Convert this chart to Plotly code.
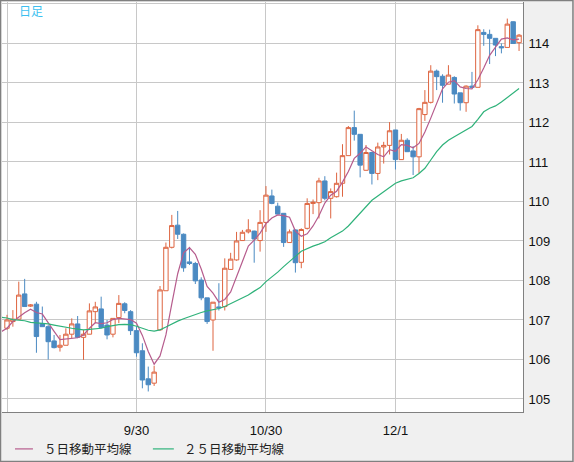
import plotly.graph_objects as go

# ---- data ----
days = list(range(88))
opens = [106.79, 106.96, 107.02, 107.66, 107.35, 107.40, 106.91, 106.83, 106.47, 106.31,
         106.36, 106.64, 106.90, 106.56, 106.64, 107.21, 107.28, 106.87, 106.64, 107.06,
         107.41, 107.21, 106.73, 106.22, 105.51, 105.40, 106.75, 107.74, 108.84, 109.40,
         109.17, 108.47, 108.43, 108.01, 107.56, 107.00, 107.33, 107.34, 108.28, 108.52,
         109.01, 109.23, 109.25, 109.01, 109.47, 110.14, 109.88, 109.70, 108.96, 109.28,
         108.46, 109.32, 109.95, 109.97, 110.52, 110.08, 110.12, 110.46, 111.16, 111.87,
         111.70, 110.79, 111.24, 110.71, 111.38, 111.42, 111.81, 111.06, 111.55, 111.28,
         111.13, 112.20, 112.51, 113.30, 113.17, 112.97, 113.14, 112.75, 112.50, 112.92,
         112.89, 114.28, 114.23, 114.13, 113.92, 113.90, 114.55, 114.02]
highs = [107.13, 107.25, 107.97, 108.04, 107.40, 107.46, 107.34, 106.87, 106.62, 106.62,
         106.79, 107.04, 107.10, 106.75, 107.42, 107.46, 107.59, 107.00, 107.04, 107.63,
         107.45, 107.25, 106.83, 106.41, 105.82, 105.84, 107.86, 108.96, 109.66, 109.76,
         109.19, 108.85, 108.47, 108.08, 107.56, 107.45, 107.93, 108.56, 108.70, 109.23,
         109.28, 109.55, 109.26, 109.78, 110.39, 110.30, 109.97, 109.70, 109.29, 109.29,
         109.32, 110.08, 110.05, 110.60, 110.64, 110.33, 110.73, 111.45, 111.91, 112.30,
         111.70, 111.43, 111.26, 111.49, 111.51, 112.01, 111.81, 111.71, 111.60, 111.40,
         112.37, 112.82, 113.45, 113.34, 113.22, 113.45, 113.17, 112.75, 112.94, 113.28,
         114.46, 114.36, 114.35, 114.13, 114.00, 114.63, 114.56, 114.24]
lows = [106.75, 106.83, 107.00, 107.34, 107.33, 106.17, 106.83, 106.00, 106.28, 106.20,
        106.36, 106.54, 106.54, 105.99, 106.64, 106.92, 106.79, 106.51, 106.56, 106.92,
        107.17, 106.62, 106.07, 105.27, 105.19, 105.33, 106.73, 107.74, 108.81, 109.05,
        108.22, 108.39, 107.91, 107.50, 106.90, 106.22, 107.24, 107.24, 108.28, 108.50,
        109.01, 109.19, 108.45, 108.73, 109.23, 109.93, 109.68, 108.85, 108.96, 108.20,
        108.31, 109.29, 109.68, 109.57, 110.03, 109.57, 110.10, 110.12, 111.16, 111.54,
        110.61, 110.78, 110.43, 110.54, 110.96, 111.19, 110.81, 111.06, 111.26, 110.67,
        110.71, 112.04, 112.48, 112.82, 112.50, 112.97, 112.48, 112.30, 112.27, 112.89,
        112.89, 113.94, 113.48, 113.68, 113.75, 113.90, 114.00, 113.81]
closes = [107.00, 107.02, 107.63, 107.34, 107.38, 106.58, 106.83, 106.45, 106.30, 106.36,
          106.64, 106.90, 106.56, 106.64, 107.23, 107.33, 106.81, 106.62, 107.04, 107.42,
          107.24, 106.73, 106.17, 105.48, 105.36, 105.68, 107.76, 108.84, 109.39, 109.17,
          108.32, 108.43, 107.99, 107.56, 106.96, 107.45, 107.31, 108.31, 108.54, 109.00,
          109.22, 109.28, 109.05, 109.47, 110.16, 109.95, 109.68, 108.96, 109.23, 108.45,
          109.29, 109.95, 109.98, 110.52, 110.08, 110.25, 110.46, 111.16, 111.87, 111.70,
          110.92, 111.24, 110.71, 111.38, 111.42, 111.79, 111.06, 111.55, 111.26, 111.13,
          112.35, 112.51, 113.30, 113.16, 112.94, 113.20, 112.72, 112.50, 112.92, 112.89,
          114.35, 114.23, 114.13, 113.96, 113.89, 114.49, 114.00, 114.21]

ma_days = list(range(-1, 88))
ma5 = [106.70, 106.79, 106.96, 107.08, 107.18, 107.27, 107.19, 107.15, 106.92, 106.71,
       106.50, 106.52, 106.53, 106.55, 106.62, 106.79, 106.93, 106.91, 106.93, 107.01,
       107.04, 107.03, 107.01, 106.92, 106.61, 106.20, 105.88, 106.09, 106.62, 107.41,
       108.17, 108.70, 108.83, 108.66, 108.29, 107.85, 107.68, 107.45, 107.52, 107.71,
       108.12, 108.48, 108.87, 109.02, 109.20, 109.44, 109.58, 109.66, 109.64, 109.60,
       109.25, 109.12, 109.18, 109.38, 109.64, 109.96, 110.16, 110.26, 110.49, 110.76,
       111.09, 111.22, 111.38, 111.29, 111.19, 111.13, 111.31, 111.27, 111.44, 111.42,
       111.36, 111.47, 111.76, 112.11, 112.49, 112.85, 113.02, 113.06, 112.90, 112.86,
       112.85, 113.08, 113.38, 113.70, 113.91, 114.11, 114.14, 114.09, 114.11]
ma25 = [107.07, 107.05, 107.01, 107.00, 106.98, 106.94, 106.93, 106.92, 106.90, 106.87,
        106.84, 106.81, 106.79, 106.77, 106.75, 106.76, 106.77, 106.79, 106.83, 106.86,
        106.88, 106.89, 106.88, 106.84, 106.79, 106.74, 106.72, 106.75, 106.82, 106.90,
        106.97, 107.03, 107.09, 107.14, 107.19, 107.23, 107.26, 107.29, 107.34, 107.41,
        107.48, 107.56, 107.63, 107.73, 107.82, 107.97, 108.08, 108.21, 108.35, 108.49,
        108.61, 108.74, 108.81, 108.87, 108.92, 108.98, 109.08, 109.17, 109.25, 109.38,
        109.54, 109.70, 109.87, 110.03, 110.14, 110.25, 110.37, 110.46, 110.52, 110.57,
        110.60, 110.71, 110.84, 111.05, 111.26, 111.43, 111.55, 111.64, 111.72, 111.81,
        111.90, 112.08, 112.27, 112.36, 112.42, 112.52, 112.63, 112.75, 112.86]

tick_days = [0, 22, 44, 66]
tick_labels = ["", "9/30", "10/30", "12/1"]
price_ticks = list(range(105, 116))
price_labels = [str(v) for v in range(105, 115)] + [""]
series_names = ["５日移動平均線", "２５日移動平均線"]

# ---- styles ----
UP = "#de6540"
DOWN = "#4b8ac2"
MA5_COLOR = "#b65c8d"
MA25_COLOR = "#2fb27a"
GRID = "#c8c8c8"
FRAME = "#808080"
TICKFONT = dict(family="Liberation Sans, Arial, sans-serif", size=13, color="#111111")
JPFONT = "Noto Sans CJK JP"
MA_COLORS = [MA5_COLOR, MA25_COLOR]

fig = go.Figure()
fig.add_trace(go.Candlestick(
    x=days, open=opens, high=highs, low=lows, close=closes,
    increasing=dict(line=dict(color=UP, width=1), fillcolor="#ffffff"),
    decreasing=dict(line=dict(color=DOWN, width=1), fillcolor=DOWN),
    whiskerwidth=0, showlegend=False, name="日足"))
for name, vals, col in zip(series_names, [ma5, ma25], MA_COLORS):
    fig.add_trace(go.Scatter(x=ma_days, y=vals, mode="lines", name=name,
                             line=dict(color=col, width=1.2), showlegend=False))

# legend drawn as line samples + text below the plot (paper coordinates)
legend_line_x = [(0.0249, 0.0594), (0.2896, 0.3298)]
legend_text_x = [0.0767, 0.3452]
legend_y = -0.090
shapes = [dict(type="rect", xref="paper", yref="paper",
               x0=-0.0029, x1=1.0959, y0=-0.1207, y1=1.0037,
               line=dict(color=FRAME, width=1.5), fillcolor="rgba(0,0,0,0)")]
annotations = [dict(text="日足", xref="paper", yref="paper", x=0.0288, y=0.979,
                    xanchor="left", yanchor="middle", showarrow=False,
                    font=dict(family=JPFONT, size=12, color="#3cbff0"))]
for (lx0, lx1), tx, name, col in zip(legend_line_x, legend_text_x, series_names, MA_COLORS):
    shapes.append(dict(type="line", xref="paper", yref="paper", x0=lx0, x1=lx1,
                       y0=legend_y, y1=legend_y, line=dict(color=col, width=1.2)))
    annotations.append(dict(text=name, xref="paper", yref="paper", x=tx, y=legend_y,
                            xanchor="left", yanchor="middle", showarrow=False,
                            font=dict(family=JPFONT, size=12.5, color="#222222")))

fig.update_layout(
    width=574, height=462,
    margin=dict(l=2, r=50.5, t=2, b=50),
    paper_bgcolor="#f0f0f0", plot_bgcolor="#ffffff",
    boxgap=0.25, boxgroupgap=0.0,
    xaxis=dict(range=[-0.85, 87.67], tickmode="array", tickvals=tick_days, ticktext=tick_labels,
               showgrid=True, gridcolor=GRID, gridwidth=1, zeroline=False,
               showline=True, linecolor=FRAME, linewidth=1, ticks="",
               ticklabelstandoff=6, tickfont=TICKFONT,
               rangeslider=dict(visible=False)),
    yaxis=dict(side="right", range=[104.67, 115.05], tickmode="array",
               tickvals=price_ticks, ticktext=price_labels,
               showgrid=True, gridcolor=GRID, gridwidth=1, zeroline=False,
               showline=True, linecolor=FRAME, linewidth=1, ticks="",
               ticklabelstandoff=2, tickfont=TICKFONT),
    showlegend=False,
    shapes=shapes,
    annotations=annotations,
)

fig.write_html("out.html", config={"displayModeBar": False},
               post_script="document.body.style.margin='0';document.body.style.overflow='hidden';")
